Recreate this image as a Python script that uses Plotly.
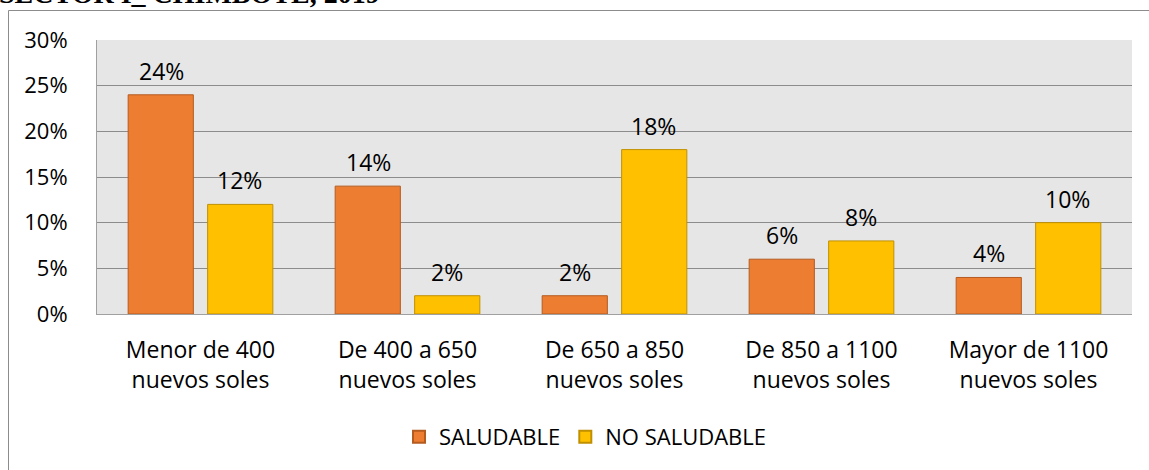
import plotly.graph_objects as go

categories = [
    "Menor de 400<br>nuevos soles",
    "De 400 a 650<br>nuevos soles",
    "De 650 a 850<br>nuevos soles",
    "De 850 a 1100<br>nuevos soles",
    "Mayor de 1100<br>nuevos soles",
]
saludable = [24, 14, 2, 6, 4]
no_saludable = [12, 2, 18, 8, 10]
y_ticks = [0, 5, 10, 15, 20, 25, 30]
y_tick_labels = [f"{v}%" for v in y_ticks]

FONT = "Open Sans"
FS = 23
W, H = 1149, 470
L, R, T, B = 97, 17, 40, 156
PW, PH = W - L - R, H - T - B

fig = go.Figure()
fig.add_trace(go.Bar(
    name="SALUDABLE", x=categories, y=saludable,
    marker=dict(color="#ED7D31", line=dict(color="#B45B20", width=1)),
))
fig.add_trace(go.Bar(
    name="NO SALUDABLE", x=categories, y=no_saludable,
    marker=dict(color="#FFC000", line=dict(color="#C09000", width=1)),
))

annotations = []
for i, cat in enumerate(categories):
    for off, vals in ((-0.19, saludable), (0.19, no_saludable)):
        annotations.append(dict(
            x=i + off, y=vals[i], xref="x", yref="y",
            text=f"{vals[i]}%", showarrow=False,
            yanchor="bottom", yshift=6,
            font=dict(family=FONT, size=FS, color="#000000"),
        ))

# Figure title, partly above the top edge of the page
annotations.append(dict(
    x=-(L + 3) / PW, y=1 + (T - 11) / PH, xref="paper", yref="paper",
    xanchor="left", yanchor="bottom", showarrow=False,
    text="<b>SECTOR I_ CHIMBOTE, 2019</b>",
    font=dict(family="Liberation Serif", size=28, color="#000000"),
))

fig.update_layout(
    width=W, height=H,
    margin=dict(l=L, r=R, t=T, b=B),
    paper_bgcolor="white",
    plot_bgcolor="#E6E6E6",
    barmode="group",
    bargap=0.232,
    bargroupgap=0.18,
    font=dict(family=FONT, size=FS, color="#000000"),
    showlegend=True,
    legend=dict(
        orientation="h", xanchor="center", yanchor="middle",
        x=(585 - L) / PW, y=(H - B - 437) / PH,
        font=dict(family=FONT, size=FS - 1, color="#000000"),
        itemsizing="constant", itemwidth=30,
    ),
    annotations=annotations,
    shapes=[
        dict(type="line", xref="paper", yref="paper",
             x0=-(L - 8.5) / PW, x1=1 + R / PW,
             y0=1 + (T - 10.5) / PH, y1=1 + (T - 10.5) / PH,
             line=dict(color="#8C8C8C", width=1)),
        dict(type="line", xref="paper", yref="paper",
             x0=-(L - 8.5) / PW, x1=-(L - 8.5) / PW,
             y0=1 + (T - 10.5) / PH, y1=-B / PH,
             line=dict(color="#8C8C8C", width=1)),
    ],
)
fig.update_xaxes(
    showgrid=False, showline=True, linecolor="#A0A0A0", linewidth=1,
    ticks="", ticklabelstandoff=15,
    tickfont=dict(family=FONT, size=FS),
)
fig.update_yaxes(
    range=[0, 30], tickvals=y_ticks, ticktext=y_tick_labels,
    showgrid=True, gridcolor="#8C8C8C", gridwidth=1,
    showline=True, linecolor="#A0A0A0", linewidth=1,
    zeroline=False, ticks="", ticklabelstandoff=24,
    tickfont=dict(family=FONT, size=FS - 1),
)
fig.write_html("out.html")
